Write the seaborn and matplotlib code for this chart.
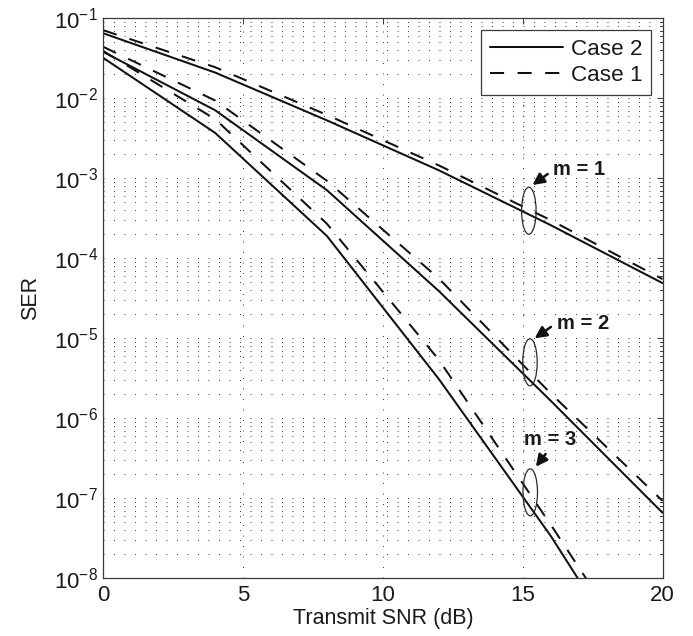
import numpy as np
import pandas as pd
import matplotlib
matplotlib.use("Agg")
import matplotlib.pyplot as plt
import matplotlib.transforms as mtransforms
from matplotlib.patches import Ellipse
from matplotlib.ticker import NullLocator, FixedLocator, LogFormatterMathtext, NullFormatter
import seaborn as sns

# ---------------- data ----------------
snr = [0, 4, 8, 12, 16, 20]
m1_case2 = [6.5e-2, 2.1e-2, 5.3e-3, 1.26e-3, 2.6e-4, 4.9e-5]
m1_case1 = [7.1e-2, 2.45e-2, 6.2e-3, 1.45e-3, 3.0e-4, 5.5e-5]
m2_case2 = [3.8e-2, 7.1e-3, 7.1e-4, 3.9e-5, 1.66e-6, 6.6e-8]
m2_case1 = [4.4e-2, 9.4e-3, 9.3e-4, 5.6e-5, 2.05e-6, 9.3e-8]
m3_case2 = [3.2e-2, 3.7e-3, 1.9e-4, 3.1e-6, 3.4e-8, 2.2e-10]
m3_case1 = [3.9e-2, 5.5e-3, 2.7e-4, 5.4e-6, 4.7e-8, 3.5e-10]
case_labels = ["Case 2", "Case 1"]
m_labels = ["m = 1", "m = 2", "m = 3"]
x_ticks = [0, 5, 10, 15, 20]
y_ticks = [1e-8, 1e-7, 1e-6, 1e-5, 1e-4, 1e-3, 1e-2, 1e-1]

series = {
    ("m = 1", "Case 2"): m1_case2, ("m = 1", "Case 1"): m1_case1,
    ("m = 2", "Case 2"): m2_case2, ("m = 2", "Case 1"): m2_case1,
    ("m = 3", "Case 2"): m3_case2, ("m = 3", "Case 1"): m3_case1,
}
rows = []
for (m, c), vals in series.items():
    for s, v in zip(snr, vals):
        rows.append({"SNR": s, "SER": v, "Case": c, "m": m, "unit": f"{m}|{c}"})
df = pd.DataFrame(rows)

# ---------------- style ----------------
sns.set_style("white")
plt.rcParams["font.family"] = ["Liberation Sans", "DejaVu Sans"]
plt.rcParams["mathtext.fontset"] = "custom"
plt.rcParams["mathtext.rm"] = "Liberation Sans"
plt.rcParams["mathtext.it"] = "Liberation Sans:italic"
plt.rcParams["mathtext.bf"] = "Liberation Sans:bold"
plt.rcParams["mathtext.default"] = "regular"
plt.rcParams["axes.unicode_minus"] = True

FS_TICK = 16.0
FS_LAB = 15.5
FS_LEG = 16.2
FS_ANN = 14.5
TXT = "#1a1a1a"
SPINE = "#3a3a3a"

fig = plt.figure(figsize=(6.93, 6.36), dpi=100)
ax = fig.add_axes([0.149, 0.0907, 0.807, 0.8805])

sns.lineplot(data=df, x="SNR", y="SER", style="Case", style_order=case_labels,
             units="unit", estimator=None, sort=False, color="#111111",
             dashes={"Case 2": "", "Case 1": (7, 6.7)}, linewidth=1.45,
             ax=ax, legend="brief")

ax.set_yscale("log")
ax.set_xlim(0, 20)
ax.set_ylim(1e-8, 1e-1)
ax.xaxis.set_major_locator(FixedLocator(x_ticks))
ax.xaxis.set_minor_locator(NullLocator())
ax.yaxis.set_major_locator(FixedLocator(y_ticks))
minor_y = [k * d for d in y_ticks[:-1] for k in range(2, 10)]
ax.yaxis.set_minor_locator(FixedLocator(minor_y))
ax.yaxis.set_major_formatter(LogFormatterMathtext())
ax.yaxis.set_minor_formatter(NullFormatter())

# MATLAB-like dotted grid
grid_kw = dict(color="#353535", linewidth=0.7, linestyle=(0, (1.0, 9.8)))
ax.grid(True, which="major", axis="both", **grid_kw)
ax.grid(True, which="minor", axis="y", **grid_kw)
ax.set_axisbelow(True)

for sp in ax.spines.values():
    sp.set_color(SPINE)
    sp.set_linewidth(0.9)
    sp.set_visible(True)

ax.tick_params(which="both", direction="in", top=True, right=True,
               color=SPINE, width=0.7, labelsize=FS_TICK, labelcolor=TXT)
ax.tick_params(which="major", length=4.2, pad=5)
ax.tick_params(which="minor", length=2.0)
ax.tick_params(axis="y", which="major", pad=4)

ax.set_xlabel("Transmit SNR (dB)", fontsize=FS_LAB, color=TXT, labelpad=1)
ax.set_ylabel("SER", fontsize=FS_LAB, color=TXT, labelpad=9)

# legend
handles, labels = ax.get_legend_handles_labels()
hl = [(h, l) for h, l in zip(handles, labels) if l in case_labels]
for h, _ in hl:
    h.set_color("#111111")
    h.set_linewidth(1.45)
leg = ax.legend([h for h, _ in hl], [l for _, l in hl], loc="upper right",
                fontsize=FS_LEG, frameon=True, fancybox=False, framealpha=1,
                edgecolor=SPINE, handlelength=3.25, handletextpad=0.32,
                borderpad=0.4, labelspacing=0.25, borderaxespad=0.5)
leg.get_frame().set_linewidth(0.9)
for t in leg.get_texts():
    t.set_color(TXT)

# ellipses marking the curve pairs (size in inches, centre in data)
ell_pos = [(15.22, 10 ** -3.405), (15.26, 10 ** -5.30), (15.27, 10 ** -6.925)]
for (ex, ey) in ell_pos:
    tr = fig.dpi_scale_trans + mtransforms.ScaledTranslation(ex, ey, ax.transData)
    e = Ellipse((0, 0), width=0.145, height=0.47, transform=tr, fill=False,
                edgecolor="#2a2a2a", linewidth=0.9, zorder=5)
    ax.add_artist(e)

# labels with arrows
ann = [
    ("m = 1", (15.35, 10 ** -3.084), (16.09, 10 ** -2.896), "left", (0, 0.5)),
    ("m = 2", (15.43, 10 ** -5.0), (16.21, 10 ** -4.809), "left", (0, 0.5)),
    ("m = 3", (15.47, 10 ** -6.605), (15.97, 10 ** -6.259), "center", (0.5, 0.0)),
]
for txt, head, tpos, ha, rp in ann:
    ax.annotate(txt, xy=head, xytext=tpos, ha=ha, va="center",
                fontsize=FS_ANN, fontweight="bold", color=TXT,
                arrowprops=dict(arrowstyle="-|>,head_length=0.5,head_width=0.25",
                                color="#111111", lw=1.8,
                                mutation_scale=14, shrinkA=2, shrinkB=0,
                                relpos=rp),
                zorder=6)

fig.savefig("out.png", dpi=100, facecolor="white")
